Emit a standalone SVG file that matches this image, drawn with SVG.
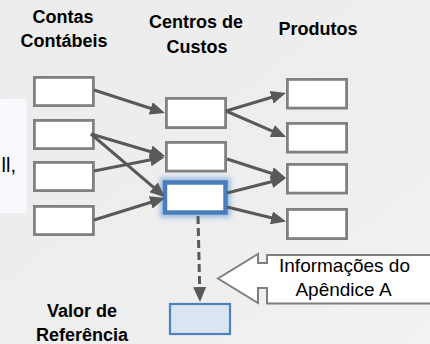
<svg xmlns="http://www.w3.org/2000/svg" width="430" height="344" viewBox="0 0 430 344">
<defs>
  <linearGradient id="bg" x1="0" y1="0" x2="1" y2="1">
    <stop offset="0" stop-color="#ececec"/>
    <stop offset="0.6" stop-color="#eeeeee"/>
    <stop offset="1" stop-color="#f2f2f2"/>
  </linearGradient>
  <filter id="glow" x="-30%" y="-50%" width="160%" height="200%">
    <feGaussianBlur stdDeviation="2.5"/>
  </filter>
  <marker id="ah" markerUnits="userSpaceOnUse" markerWidth="15" markerHeight="13" viewBox="0 0 15 13" refX="2" refY="6.5" orient="auto">
    <path d="M0,0 L15,6.5 L0,13 z" fill="#595959"/>
  </marker>
</defs>
<style>
  .hd{font-family:"Liberation Sans",Arial,sans-serif;font-weight:bold;font-size:18px;fill:#000;text-anchor:middle}
  .tx{font-family:"Liberation Sans",Arial,sans-serif;font-size:19px;fill:#000;text-anchor:middle}
  .box{fill:#ffffff;stroke:#808080;stroke-width:2.8}
  .con{fill:none;stroke:#595959;stroke-width:3;marker-end:url(#ah)}
</style>
<rect width="430" height="344" fill="url(#bg)"/>
<rect x="0" y="99" width="27" height="114" fill="#f7f9fc"/>
<text x="1.5" y="172" font-family="'Liberation Sans',Arial,sans-serif" font-size="20" fill="#000">ll,</text>

<g id="headers">
  <text class="hd" x="63" y="23">Contas</text>
  <text class="hd" x="64" y="47">Contábeis</text>
  <text class="hd" x="196" y="28">Centros de</text>
  <text class="hd" x="197" y="53">Custos</text>
  <text class="hd" x="318" y="35">Produtos</text>
  <text class="hd" x="82" y="317">Valor de</text>
  <text class="hd" x="82" y="341">Referência</text>
</g>

<g id="conta1"><rect class="box" x="34.4" y="77.4" width="59" height="28.2"/></g>
<g id="conta2"><rect class="box" x="34.4" y="120.4" width="59" height="28.2"/></g>
<g id="conta3"><rect class="box" x="34.4" y="162.4" width="59" height="28.2"/></g>
<g id="conta4"><rect class="box" x="34.4" y="206.4" width="59" height="28.2"/></g>

<g id="centro1"><rect class="box" x="166.4" y="98.4" width="59.2" height="29.2"/></g>
<g id="centro2"><rect class="box" x="166.4" y="142.4" width="59.2" height="28.7"/></g>
<g id="centro3">
  <rect x="165" y="182.5" width="60.5" height="30" fill="none" stroke="#8db4e3" stroke-width="10" opacity="0.85" filter="url(#glow)"/>
  <rect x="165" y="182.5" width="60.5" height="30" fill="#ffffff" stroke="#4a7ebb" stroke-width="4.5"/>
</g>

<g id="produto1"><rect class="box" x="287.4" y="79.4" width="59.2" height="28.7"/></g>
<g id="produto2"><rect class="box" x="287.4" y="123.4" width="59.2" height="28.7"/></g>
<g id="produto3"><rect class="box" x="287.4" y="164.4" width="59.2" height="28.7"/></g>
<g id="produto4"><rect class="box" x="287.4" y="209.4" width="59.2" height="29.2"/></g>

<g id="valor"><rect x="170" y="304" width="60" height="30" fill="#dbe5f1" stroke="#4f81bd" stroke-width="2.2"/></g>

<g id="callout">
  <path d="M432,255 L267,255 L267,263 L258,263 L258,254 L218,278.5 L258,303 L258,288 L267,288 L267,303.5 L432,303.5" fill="#ffffff" stroke="#7f7f7f" stroke-width="2" stroke-linejoin="miter"/>
  <text class="tx" x="344.5" y="272">Informações do</text>
  <text class="tx" x="343.5" y="295.5">Apêndice A</text>
</g>

<g id="connectors">
  <line class="con" x1="94" y1="90" x2="152.6" y2="109"/>
  <line class="con" x1="91" y1="134" x2="152.5" y2="152.3"/>
  <line class="con" x1="91" y1="134" x2="155.1" y2="188.6"/>
  <line class="con" x1="94" y1="171" x2="152.2" y2="159.5"/>
  <line class="con" x1="94" y1="220" x2="152.6" y2="201.8"/>
  <line class="con" x1="226" y1="111" x2="273.5" y2="96.7"/>
  <line class="con" x1="226" y1="111" x2="274.1" y2="131.8"/>
  <line class="con" x1="227" y1="159" x2="273.6" y2="174"/>
  <line class="con" x1="227" y1="193" x2="273.4" y2="181.2"/>
  <line class="con" x1="227" y1="207" x2="273.4" y2="218.3"/>
  <line class="con" x1="198" y1="216" x2="199.7" y2="289" stroke-width="3.2" stroke-dasharray="8 4"/>
</g>
</svg>
